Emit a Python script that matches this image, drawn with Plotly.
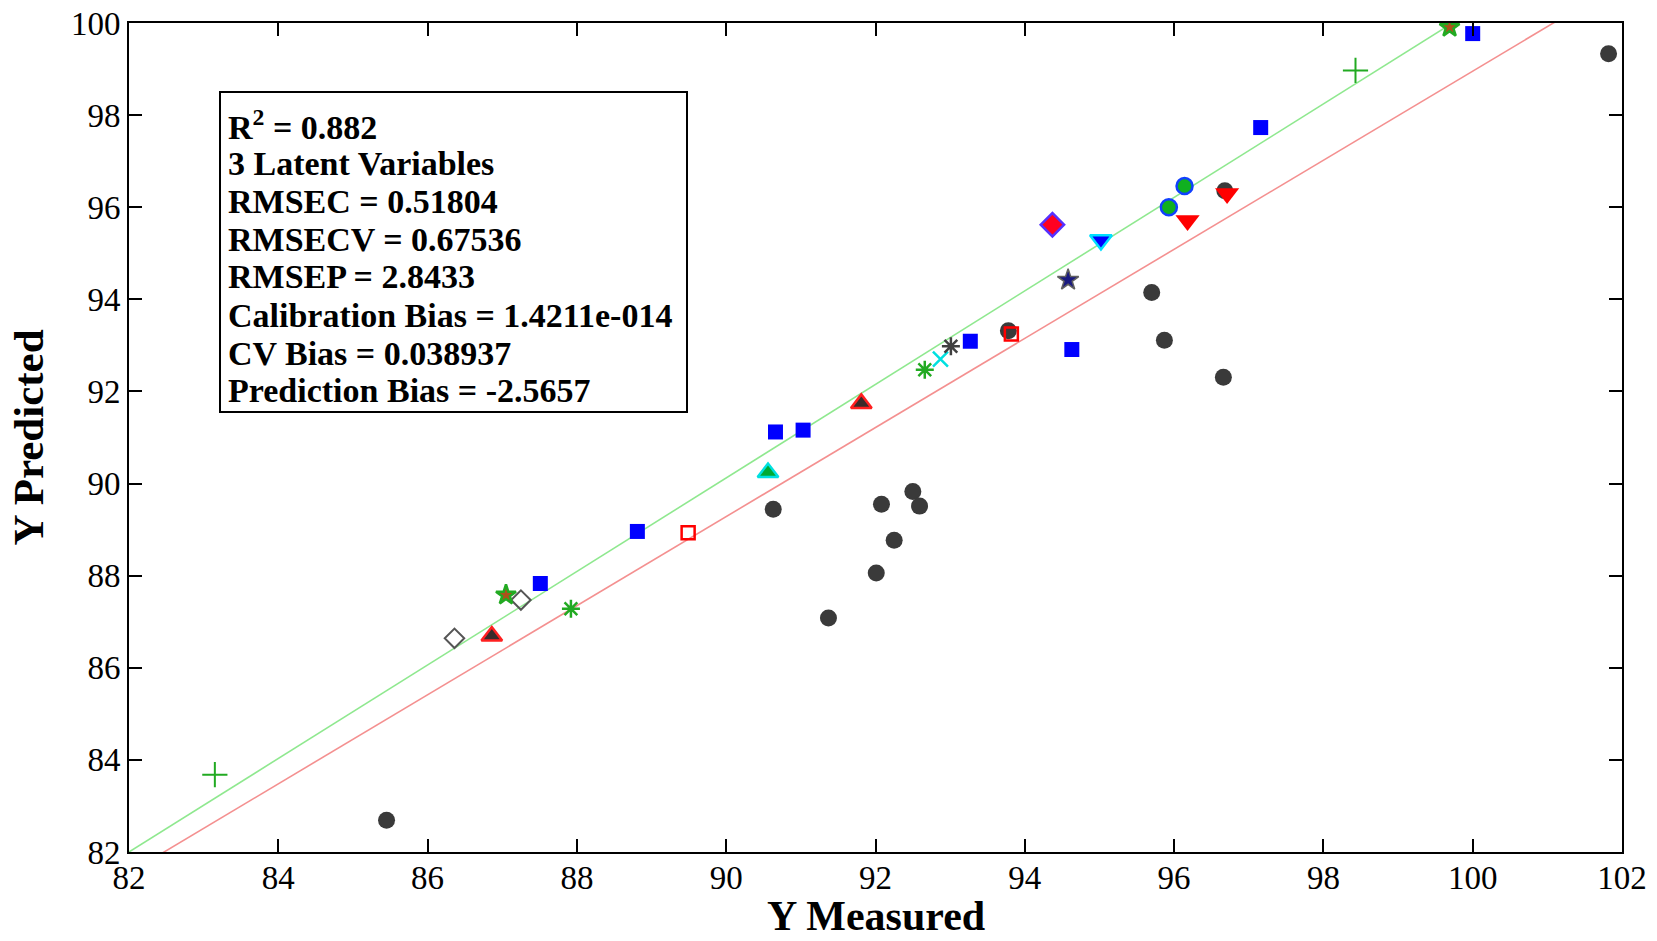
import plotly.graph_objects as go

# ---------------- data ----------------
gray_circle_x = [85.45, 90.63, 91.37, 92.01, 92.08, 92.25, 92.50, 92.59, 95.70, 95.87, 96.66, 101.82, 93.78, 96.68]
gray_circle_y = [82.69, 89.44, 87.08, 88.06, 89.55, 88.77, 89.83, 89.51, 94.15, 93.11, 92.31, 99.33, 93.32, 96.36]

blue_square_x = [87.51, 88.81, 90.66, 91.03, 93.27, 94.63, 97.16, 100.00]
blue_square_y = [87.83, 88.96, 91.12, 91.16, 93.09, 92.91, 97.73, 99.77]

green_plus_x = [83.15, 98.43]
green_plus_y = [83.68, 98.97]

open_diamond_x = [86.36, 87.25]
open_diamond_y = [86.64, 87.47]

red_triangle_x = [86.86, 91.81]
red_triangle_y = [86.69, 91.74]

green_star_x = [87.05, 99.69]
green_star_y = [87.58, 99.91]

green_asterisk_x = [87.92, 92.66]
green_asterisk_y = [87.28, 92.47]

red_open_square_x = [89.49, 93.82]
red_open_square_y = [88.93, 93.25]

cyan_triangle_x = [90.56]
cyan_triangle_y = [90.24]

cyan_x_x = [92.87]
cyan_x_y = [92.70]

gray_asterisk_x = [93.01]
gray_asterisk_y = [92.98]

purple_diamond_x = [94.37]
purple_diamond_y = [95.62]

navy_star_x = [94.58]
navy_star_y = [94.42]

cyan_down_x = [95.02]
cyan_down_y = [95.29]

green_circle_x = [95.93, 96.14]
green_circle_y = [96.00, 96.46]

red_down_x = [96.18, 96.71]
red_down_y = [95.71, 96.30]

# fit lines: [slope, intercept]
green_fit = [1.0152, -1.246]
red_fit = [0.9672, 2.235]

x_ticks = [82, 84, 86, 88, 90, 92, 94, 96, 98, 100, 102]
y_ticks = [82, 84, 86, 88, 90, 92, 94, 96, 98, 100]
x_range = [82, 102]
y_range = [82, 100]

x_title = "Y Measured"
y_title = "Y Predicted"

stats_lines = [
    "R<sup>2</sup> = 0.882",
    "3 Latent Variables",
    "RMSEC = 0.51804",
    "RMSECV = 0.67536",
    "RMSEP = 2.8433",
    "Calibration Bias = 1.4211e-014",
    "CV Bias = 0.038937",
    "Prediction Bias = -2.5657",
]

# ---------------- figure ----------------
W, H = 1657, 941
L, R, T, B = 129, 35, 23, 89
FONT = "Liberation Serif, Times New Roman, serif"

fig = go.Figure()

def line_trace(fit, color):
    xs = [x_range[0] - 1, x_range[1] + 1]
    ys = [fit[0] * v + fit[1] for v in xs]
    return go.Scatter(x=xs, y=ys, mode="lines", line=dict(color=color, width=1.6),
                      hoverinfo="skip", showlegend=False)

fig.add_trace(line_trace(green_fit, "#8fe88f"))
fig.add_trace(line_trace(red_fit, "#f49090"))

def pts(x, y, symbol, size, color, lcolor=None, lwidth=0):
    fig.add_trace(go.Scatter(
        x=x, y=y, mode="markers", showlegend=False,
        marker=dict(symbol=symbol, size=size, color=color,
                    line=dict(color=lcolor if lcolor else color, width=lwidth))))

pts(gray_circle_x, gray_circle_y, "circle", 17, "#3a3a3a")
pts(blue_square_x, blue_square_y, "square", 15, "#0000ff")
pts(green_plus_x, green_plus_y, "cross-thin-open", 18, "#22aa22", "#22aa22", 2)
pts(open_diamond_x, open_diamond_y, "diamond-open", 15, "#555555", "#555555", 2)
pts(red_triangle_x, red_triangle_y, "triangle-up", 18, "#3a2a2a", "#ff2020", 2.5)
pts(green_star_x, green_star_y, "star", 15, "#b0501a", "#22aa22", 2.5)
pts(green_asterisk_x, green_asterisk_y, "asterisk-open", 15, "#22aa22", "#22aa22", 2.5)
pts(red_open_square_x, red_open_square_y, "square-open", 13, "#ff0000", "#ff0000", 2.5)
pts(cyan_triangle_x, cyan_triangle_y, "triangle-up", 18, "#00aa33", "#00e0e0", 2.5)
pts(cyan_x_x, cyan_x_y, "x-thin-open", 15, "#00e0e0", "#00e0e0", 2.5)
pts(gray_asterisk_x, gray_asterisk_y, "asterisk-open", 15, "#404040", "#404040", 2.5)
pts(purple_diamond_x, purple_diamond_y, "diamond", 18, "#ff0020", "#5530ff", 2.5)
pts(navy_star_x, navy_star_y, "star", 16, "#1a1a80", "#606060", 1.5)
pts(cyan_down_x, cyan_down_y, "triangle-down", 19, "#0000ff", "#00e0ff", 2.5)
pts(green_circle_x, green_circle_y, "circle", 16, "#10b020", "#1040ff", 2.5)
pts(red_down_x, red_down_y, "triangle-down", 21, "#ff0000", "#ff0000", 0)

axis_common = dict(
    showgrid=False, zeroline=False, showline=True, linecolor="black", linewidth=2,
    mirror="ticks", ticks="inside", ticklen=13, tickwidth=2, tickcolor="black",
    tickfont=dict(family=FONT, size=33, color="black"), automargin=False,
)

fig.update_xaxes(range=x_range, tickvals=x_ticks, ticktext=[str(v) for v in x_ticks],
                 ticklabelstandoff=-5, **axis_common)
fig.update_yaxes(range=y_range, tickvals=y_ticks, ticktext=[str(v) for v in y_ticks],
                 title=dict(text="<b>" + y_title + "</b>", font=dict(family=FONT, size=43, color="black"),
                            standoff=14),
                 **axis_common)

pw, ph = W - L - R, H - T - B
def px(xp):
    return (xp - L) / pw
def py(yp):
    return 1 - (yp - T) / ph

# x-axis title, sitting on the bottom edge of the page
fig.add_annotation(xref="paper", yref="paper", x=0.5, y=py(H),
                   xanchor="center", yanchor="bottom", showarrow=False,
                   text="<b>" + x_title + "</b>",
                   font=dict(family=FONT, size=42, color="black"))

# stats box
fig.add_shape(type="rect", xref="paper", yref="paper",
              x0=px(220), x1=px(687), y0=py(412), y1=py(92),
              line=dict(color="black", width=2), fillcolor="white", layer="above")
for i, t in enumerate(stats_lines):
    fig.add_annotation(xref="paper", yref="paper", x=px(226), y=py(125 + i * 38),
                       xanchor="left", yanchor="middle", showarrow=False, text="<b>" + t + "</b>",
                       font=dict(family=FONT, size=34, color="black"))

fig.update_layout(
    width=W, height=H, margin=dict(l=L, r=R, t=T, b=B),
    paper_bgcolor="white", plot_bgcolor="white",
)

fig.write_html("out.html")
